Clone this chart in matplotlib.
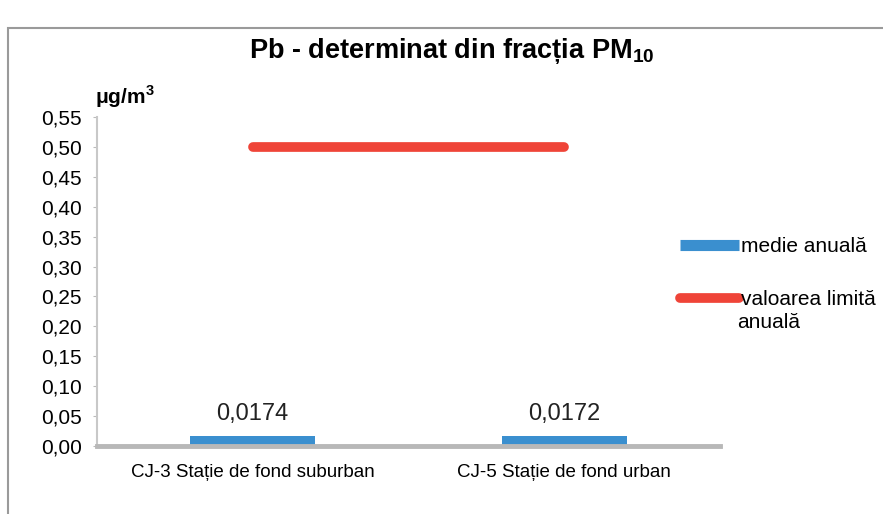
import matplotlib.pyplot as plt
from matplotlib.lines import Line2D
from matplotlib.patches import Rectangle

# date
statii = ['CJ-3 Stație de fond suburban', 'CJ-5 Stație de fond urban']
medie_anuala = [0.0174, 0.0172]
valoare_limita = [0.5, 0.5]
etichete = ['0,0174', '0,0172']
yticks = [0.00, 0.05, 0.10, 0.15, 0.20, 0.25, 0.30, 0.35, 0.40, 0.45, 0.50, 0.55]

albastru = '#3a8fcf'
rosu = '#ef4438'

plt.rcParams['font.family'] = ['Liberation Sans', 'DejaVu Sans']
plt.rcParams['mathtext.fontset'] = 'custom'
plt.rcParams['mathtext.rm'] = 'Liberation Sans'
plt.rcParams['mathtext.bf'] = 'Liberation Sans:bold'

fig = plt.figure(figsize=(8.83, 5.14), dpi=100)
fig.patch.set_facecolor('white')

# chenarul graficului
fig.patches.append(Rectangle((8/883, -0.1), 1.2, 1 - 28/514 + 0.1, transform=fig.transFigure,
                             fill=False, edgecolor='#9a9a9a', lw=1.5))

ax = fig.add_axes([97/883, 1 - 446/514, 623/883, 329/514])
x = range(len(statii))
ax.bar(x, medie_anuala, width=0.4, color=albastru, zorder=2)
ax.plot(x, valoare_limita, color=rosu, lw=7, solid_capstyle='round', zorder=3)

for i, (v, t) in enumerate(zip(medie_anuala, etichete)):
    ax.text(i, v + 0.018, t, ha='center', va='bottom', fontsize=17, color='#222222')

ax.set_xlim(-0.5, 1.5)
ax.set_ylim(0, 0.55)
ax.set_yticks(yticks)
ax.set_yticklabels([f'{t:.2f}'.replace('.', ',') for t in yticks], fontsize=15)
ax.set_xticks(list(x))
ax.set_xticklabels(statii, fontsize=13.5)
ax.tick_params(axis='y', length=3, color='#bbbbbb', pad=8)
ax.tick_params(axis='x', length=0, pad=13)

for s in ['top', 'right']:
    ax.spines[s].set_visible(False)
ax.spines['left'].set_color('#c8c8c8')
ax.spines['bottom'].set_color('#b8b8b8')
ax.spines['bottom'].set_linewidth(3.5)
ax.spines['left'].set_linewidth(1.5)

fig.text(452/883, 1 - 51/514, r'Pb - determinat din fracția PM$_\mathbf{10}$', ha='center', va='center',
         fontsize=19.5, fontweight='bold')
fig.text(95/883, 1 - 97/514, r'μg/m$^\mathbf{3}$', ha='left', va='center', fontsize=15, fontweight='bold')

handles = [Line2D([], [], color=albastru, lw=8, solid_capstyle='butt'),
           Line2D([], [], color=rosu, lw=7, solid_capstyle='round')]
fig.legend(handles, ['medie anuală', 'valoarea limită'], loc='center left',
           bbox_to_anchor=(672/883, 1 - 273/514), frameon=False, fontsize=15,
           handlelength=2.8, handletextpad=0.1, labelspacing=1.65, borderaxespad=0)
fig.text(737/883, 1 - 323/514, 'anuală', ha='left', va='center', fontsize=15)

fig.savefig('out.png', dpi=100)
